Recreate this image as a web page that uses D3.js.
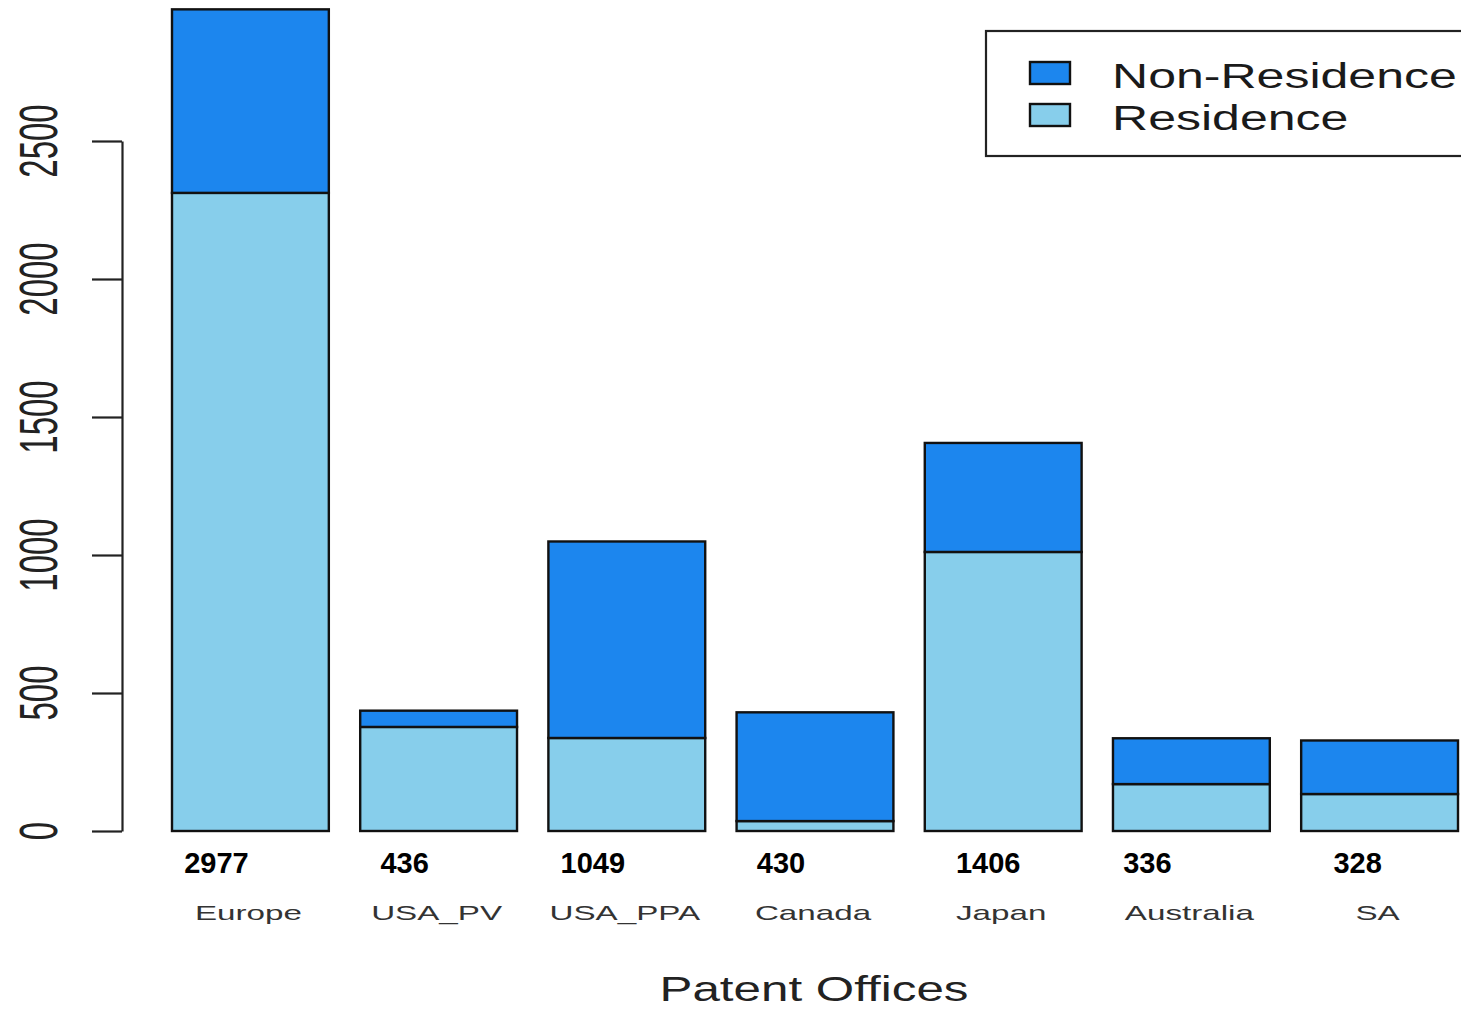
<!DOCTYPE html>
<html>
<head>
<meta charset="utf-8">
<script src="https://cdn.jsdelivr.net/npm/d3@7"></script>
<style>
  html, body { margin: 0; padding: 0; background: #ffffff; }
  svg { display: block; }
  text { font-family: "Liberation Sans", Arial, sans-serif; }
</style>
</head>
<body>
<svg id="chart" width="1461" height="1009"></svg>
<script>
// ---- data ----
const categories = ["Europe", "USA_PV", "USA_PPA", "Canada", "Japan", "Australia", "SA"];
const totals = [2977, 436, 1049, 430, 1406, 336, 328];
const residence = [2312, 377, 337, 36, 1011, 170, 134];
const nonResidence = totals.map((t, i) => t - residence[i]);
const seriesNames = ["Non-Residence", "Residence"];
const yTicks = [0, 500, 1000, 1500, 2000, 2500];
const totalLabelShift = [-34, -34, -34, -34, -15, -44, -22];

// ---- style ----
const colNon = "#1C86EE";
const colRes = "#87CEEB";

const svg = d3.select("#chart");

const x = d3.scaleBand().domain(categories).range([172, 1458]).paddingInner(1 / 6).paddingOuter(0);
const y = d3.scaleLinear().domain([0, 2500]).range([831, 141]);

// stacked data
const rows = categories.map((c, i) => ({ cat: c, Residence: residence[i], "Non-Residence": nonResidence[i] }));
const stack = d3.stack().keys(["Residence", "Non-Residence"]);
const stacked = stack(rows);
const colorOf = { "Residence": colRes, "Non-Residence": colNon };

svg.append("g").selectAll("g")
  .data(stacked)
  .join("g")
  .attr("fill", d => colorOf[d.key])
  .selectAll("rect")
  .data(d => d)
  .join("rect")
  .attr("x", d => x(d.data.cat))
  .attr("width", x.bandwidth())
  .attr("y", d => y(d[1]))
  .attr("height", d => y(d[0]) - y(d[1]))
  .attr("stroke", "#111")
  .attr("stroke-width", 2.4);

// y axis
const axis = d3.axisLeft(y).tickValues(yTicks).tickSize(30).tickSizeOuter(0).tickFormat("");
const gAxis = svg.append("g").attr("transform", "translate(122,0)").call(axis);
gAxis.select(".domain").attr("stroke", "#222").attr("stroke-width", 2.2);
gAxis.selectAll(".tick line").attr("stroke", "#222").attr("stroke-width", 2.2);

// rotated tick labels
svg.append("g").selectAll("text")
  .data(yTicks)
  .join("text")
  .attr("transform", d => `translate(57,${y(d)}) rotate(-90) scale(1,1.65)`)
  .attr("text-anchor", "middle")
  .attr("font-size", 33)
  .attr("fill", "#222")
  .text(d => d);

// total labels (bold)
svg.append("g").selectAll("text")
  .data(categories)
  .join("text")
  .attr("x", (d, i) => x(d) + x.bandwidth() / 2 + totalLabelShift[i])
  .attr("y", 873)
  .attr("text-anchor", "middle")
  .attr("font-size", 29)
  .attr("font-weight", "bold")
  .attr("fill", "#000")
  .text((d, i) => totals[i]);

// category labels
svg.append("g").selectAll("text")
  .data(categories)
  .join("text")
  .attr("transform", d => `translate(${x(d) + x.bandwidth() / 2 - 2},920) scale(1.66,1)`)
  .attr("text-anchor", "middle")
  .attr("font-size", 20)
  .attr("fill", "#333")
  .text(d => d);

// axis title
svg.append("text")
  .attr("transform", `translate(${(x.range()[0] + x.range()[1]) / 2 - 1},1001) scale(1.41,1)`)
  .attr("text-anchor", "middle")
  .attr("font-size", 35)
  .attr("fill", "#222")
  .text("Patent Offices");

// legend
const lg = svg.append("g");
lg.append("rect")
  .attr("x", 986).attr("y", 31).attr("width", 500).attr("height", 125)
  .attr("fill", "#fff").attr("stroke", "#222").attr("stroke-width", 2.2);
const legendColors = [colNon, colRes];
seriesNames.forEach((name, i) => {
  lg.append("rect")
    .attr("x", 1030).attr("y", 62 + i * 42).attr("width", 40).attr("height", 22)
    .attr("fill", legendColors[i]).attr("stroke", "#111").attr("stroke-width", 2.4);
  lg.append("text")
    .attr("transform", `translate(1112,${88 + i * 42}) scale(1.43,1)`)
    .attr("font-size", 35)
    .attr("fill", "#1a1a1a")
    .text(name);
});
</script>
</body>
</html>
